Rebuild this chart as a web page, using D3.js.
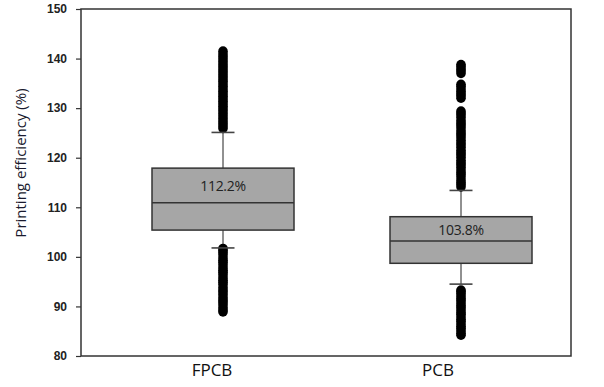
<!DOCTYPE html>
<html>

<head>
    <title>Printing efficiency box plot</title>
    <script src="https://d3js.org/d3.v7.min.js"></script>
    <style>
        body { margin: 0; background: #fff; }
    </style>
</head>

<body>
    <svg id="chart"></svg>

    <script>
        // Groups and their box statistics
        const groups = ['FPCB', 'PCB'];
        const q1 = [105.4, 98.7];
        const median = [110.9, 103.2];
        const q3 = [117.9, 108.1];
        const whiskerLow = [101.8, 94.5];
        const whiskerHigh = [125.1, 113.4];
        const meanLabels = ['112.2%', '103.8%'];

        // Outlier points, one list per group
        const outliersFPCB = [
            88.9, 89.3, 89.8, 90.4, 90.9, 91.3, 91.8, 92.4, 92.9, 93.3, 93.8, 94.4, 94.9, 95.3,
            95.8, 96.4, 96.9, 97.3, 97.8, 98.4, 98.9, 99.3, 99.8, 100.4, 100.9, 101.3, 101.7,
            125.9, 126.4, 126.9, 127.4, 127.9, 128.4, 128.9, 129.4, 129.9, 130.4, 130.9, 131.4,
            131.9, 132.4, 132.9, 133.4, 133.9, 134.4, 134.9, 135.4, 135.9, 136.4, 136.9, 137.4,
            137.9, 138.4, 138.9, 139.4, 139.9, 140.4, 140.9, 141.5
        ];
        const outliersPCB = [
            84.2, 84.6, 85.1, 85.6, 86.0, 86.5, 87.0, 87.4, 87.9, 88.4, 88.8, 89.3, 89.8, 90.2,
            90.7, 91.2, 91.6, 92.1, 92.6, 93.0, 93.3,
            114.1, 114.6, 115.0, 115.5, 116.1, 116.6, 117.0, 117.5, 118.1, 118.6, 119.0, 119.5,
            120.1, 120.6, 121.0, 121.5, 122.1, 122.6, 123.0, 123.5, 124.1, 124.6, 125.0, 125.5,
            126.1, 126.6, 127.0, 127.5, 128.1, 128.6, 129.0, 129.4,
            132.0, 132.5, 132.9, 133.4, 133.9, 134.4, 134.8,
            137.0, 137.5, 137.9, 138.4, 138.8
        ];
        const outliers = [outliersFPCB, outliersPCB];

        const yTicks = [80, 90, 100, 110, 120, 130, 140, 150];

        const width = 604;
        const height = 387;
        const plot = { left: 81, right: 571, top: 9, bottom: 356 };

        const svg = d3.select('#chart')
            .attr('width', width)
            .attr('height', height);

        const y = d3.scaleLinear().domain([80, 150]).range([plot.bottom, plot.top]);
        // box centres are not symmetric in the frame
        const x = d3.scalePoint().domain(groups).range([223, 461]);
        const xLabel = d3.scalePoint().domain(groups).range([212, 438]);
        const boxW = 142;
        const capW = 23;

        // y axis
        const yAxis = svg.append('g')
            .attr('transform', `translate(${plot.left},0)`)
            .call(d3.axisLeft(y).tickValues(yTicks).tickSize(5).tickPadding(9));
        yAxis.select('.domain').remove();
        yAxis.selectAll('line').attr('stroke', '#333').attr('stroke-width', 1.2);
        yAxis.selectAll('text')
            .attr('fill', '#222')
            .style('font-family', '"Liberation Sans", Arial, sans-serif')
            .style('font-size', '12px')
            .style('font-weight', 'bold');

        // frame
        svg.append('rect')
            .attr('x', plot.left)
            .attr('y', plot.top)
            .attr('width', plot.right - plot.left)
            .attr('height', plot.bottom - plot.top)
            .attr('fill', 'none')
            .attr('stroke', '#333')
            .attr('stroke-width', 1.5);

        const data = groups.map((g, i) => ({
            g, q1: q1[i], med: median[i], q3: q3[i],
            lo: whiskerLow[i], hi: whiskerHigh[i], label: meanLabels[i], out: outliers[i]
        }));

        const box = svg.selectAll('.box')
            .data(data)
            .enter()
            .append('g')
            .attr('class', 'box');

        // whiskers
        box.append('line')
            .attr('x1', d => x(d.g)).attr('x2', d => x(d.g))
            .attr('y1', d => y(d.hi)).attr('y2', d => y(d.q3))
            .attr('stroke', '#222').attr('stroke-width', 1);
        box.append('line')
            .attr('x1', d => x(d.g)).attr('x2', d => x(d.g))
            .attr('y1', d => y(d.q1)).attr('y2', d => y(d.lo))
            .attr('stroke', '#222').attr('stroke-width', 1);

        // outliers
        box.selectAll('.pt')
            .data(d => d.out.map(v => ({ g: d.g, v })))
            .enter()
            .append('circle')
            .attr('class', 'pt')
            .attr('cx', d => x(d.g))
            .attr('cy', d => y(d.v))
            .attr('r', 4.8)
            .attr('fill', '#000');

        // whisker caps
        box.selectAll('.cap')
            .data(d => [d.lo, d.hi].map(v => ({ g: d.g, v })))
            .enter()
            .append('line')
            .attr('x1', d => x(d.g) - capW / 2).attr('x2', d => x(d.g) + capW / 2)
            .attr('y1', d => y(d.v)).attr('y2', d => y(d.v))
            .attr('stroke', '#444').attr('stroke-width', 1.6);

        // box
        box.append('rect')
            .attr('x', d => x(d.g) - boxW / 2)
            .attr('y', d => y(d.q3))
            .attr('width', boxW)
            .attr('height', d => y(d.q1) - y(d.q3))
            .attr('fill', '#a6a6a6')
            .attr('stroke', '#333')
            .attr('stroke-width', 1.5);

        box.append('line')
            .attr('x1', d => x(d.g) - boxW / 2).attr('x2', d => x(d.g) + boxW / 2)
            .attr('y1', d => y(d.med)).attr('y2', d => y(d.med))
            .attr('stroke', '#333').attr('stroke-width', 1.5);

        box.append('text')
            .attr('x', d => x(d.g))
            .attr('y', d => (y(d.q3) + y(d.med)) / 2 + 2)
            .attr('text-anchor', 'middle')
            .attr('dominant-baseline', 'middle')
            .attr('fill', '#222')
            .style('font-family', '"Open Sans", sans-serif')
            .style('font-size', '14px')
            .style('letter-spacing', '-0.3px')
            .text(d => d.label);

        // category labels
        svg.selectAll('.xlab')
            .data(groups)
            .enter()
            .append('text')
            .attr('x', d => xLabel(d))
            .attr('y', 371)
            .attr('text-anchor', 'middle')
            .attr('dominant-baseline', 'middle')
            .attr('fill', '#111')
            .style('font-family', '"Open Sans", sans-serif')
            .style('font-size', '17px')
            .text(d => d);

        // y title
        svg.append('text')
            .attr('transform', 'translate(22,163) rotate(-90)')
            .attr('text-anchor', 'middle')
            .attr('dominant-baseline', 'middle')
            .attr('fill', '#1a1a2e')
            .style('font-family', '"Open Sans", sans-serif')
            .style('font-size', '15px')
            .text('Printing efficiency (%)');
    </script>
</body>

</html>
